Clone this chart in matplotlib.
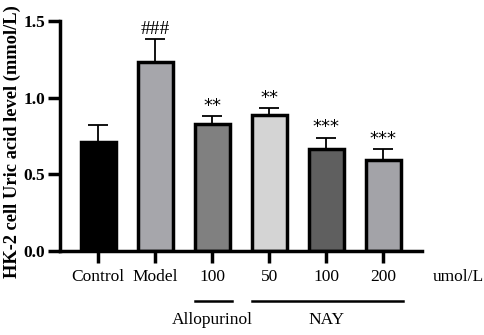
import matplotlib
matplotlib.use("Agg")
import matplotlib.pyplot as plt
from matplotlib.transforms import blended_transform_factory

categories = ["Control", "Model", "100", "50", "100", "200"]
values = [0.71, 1.23, 0.83, 0.89, 0.665, 0.595]
errors = [0.11, 0.15, 0.05, 0.04, 0.075, 0.07]
marks = ["", "###", "**", "**", "***", "***"]
colors = ["#000000", "#a6a6ab", "#808080", "#d4d4d4", "#5f5f5f", "#a3a3a8"]
yticks = [0.0, 0.5, 1.0, 1.5]
groups = [("Allopurinol", 2, 2), ("NAY", 3, 5)]

plt.rcParams['font.family'] = ['Liberation Serif', 'DejaVu Serif']

fig = plt.figure(figsize=(4.84, 3.35), dpi=100)
ax = fig.add_axes([60/484, 1-251/335, (422-60)/484, 230/335])

x = list(range(len(categories)))
ax.bar(x, values, width=0.62, color=colors, edgecolor="black", linewidth=2.5, zorder=2)
ax.errorbar(x, values, yerr=[[0]*len(errors), errors], fmt="none", ecolor="black",
            elinewidth=1.3, capsize=7, capthick=1.3, zorder=1)
for xi, v, e, m in zip(x, values, errors, marks):
    if m:
        if '*' in m:
            ax.text(xi, v + e + 0.008, m, ha="center", va="bottom", fontsize=13,
                    family=['DejaVu Sans'])
        else:
            ax.text(xi, v + e + 0.012, m, ha="center", va="bottom", fontsize=14)

ax.set_xlim(-0.67, 5.68)
ax.set_ylim(0, 1.5)
ax.set_xticks(x)
ax.set_xticklabels(categories, fontsize=12.5)
ax.set_yticks(yticks)
ax.set_yticklabels([f"{t:.1f}" for t in yticks], fontsize=12.5, fontweight="bold")
for s in ["top", "right"]:
    ax.spines[s].set_visible(False)
for s in ["left", "bottom"]:
    ax.spines[s].set_linewidth(2.5)
ax.tick_params(axis="both", width=2.5, length=8.5, direction="out")
ax.tick_params(axis="x", pad=4.5)
ax.tick_params(axis="y", pad=2)

fig.text(12/484, 1-142/335, "HK-2 cell Uric acid level (mmol/L)", rotation=90,
         ha="center", va="center", fontsize=13.3, fontweight="bold")

tr = blended_transform_factory(ax.transData, ax.transAxes)
for name, a, b in groups:
    ax.plot([a - 0.3, b + 0.35], [-0.218, -0.218], color="black", lw=1.8,
            transform=tr, clip_on=False)
    ax.text((a + b) / 2, -0.265, name, transform=tr, ha="center", va="top", fontsize=12.5)

fig.text(433/484, 1-277/335, "umol/L", ha="left", va="center", fontsize=12.5)

fig.savefig("out.png", dpi=100)
